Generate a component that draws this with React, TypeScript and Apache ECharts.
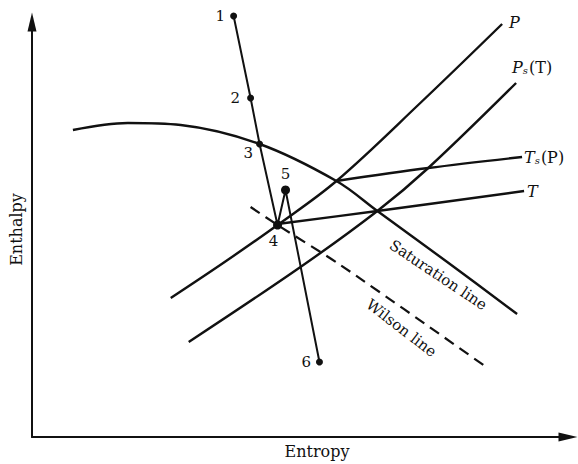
import React, { useEffect, useRef } from 'react';
import * as echarts from 'echarts';

// Entropy (x) / enthalpy (y), arbitrary schematic units
const saturationLine: [number, number][] = [[41, 307], [96, 314], [149, 312], [228, 293], [305, 256], [346, 226], [416, 175], [486, 123]];
const isobarP: [number, number][] = [[139, 139], [193, 175], [246, 212], [305, 256], [389, 334], [471, 413]];
const isobarPsT: [number, number][] = [[157, 95], [269, 170], [346, 226], [397, 269], [485, 354]];
const isothermTsP: [number, number][] = [[305, 256], [397, 269], [491, 280]];
const isothermT: [number, number][] = [[246, 213], [346, 226], [493, 246]];
const wilsonLine: [number, number][] = [[219, 230], [246, 212], [309, 172], [455, 70]];
const processPoints: [number, number][] = [[202, 421], [219, 339], [228, 293], [246, 212], [254, 247], [288, 75]];
const processNames = ['1', '2', '3', '4', '5', '6'];

const FONT = 'DejaVu Serif';
const INK = '#111';

export default function App() {
  const ref = useRef<HTMLDivElement>(null);
  useEffect(() => {
    const chart = echarts.init(ref.current!, null, { renderer: 'svg' });
    const pointLabel: Record<string, any> = {
      '1': { position: 'left', distance: 5 },
      '2': { position: 'left', distance: 7 },
      '3': { position: 'left', distance: 3, offset: [0, 9] },
      '4': { position: 'bottom', distance: 4, offset: [-4, 0] },
      '5': { position: 'top', distance: 4 },
      '6': { position: 'left', distance: 5 },
    };
    const bigDot: Record<string, number> = { '4': 9, '5': 9 };
    const rich = {
      i: { fontFamily: FONT, fontStyle: 'italic', fontSize: 16, color: INK },
      s: { fontFamily: FONT, fontStyle: 'italic', fontSize: 10, color: INK, padding: [7, 1, 0, 0] },
      n: { fontFamily: FONT, fontSize: 16, color: INK },
    };
    const curve = (name: string, data: [number, number][], endText: string | null, offset: number[]) => ({
      type: 'line',
      name,
      data,
      smooth: 0.35,
      showSymbol: false,
      clip: false,
      silent: true,
      lineStyle: { color: INK, width: 2.4 },
      endLabel: endText
        ? { show: true, formatter: endText, offset, rich, distance: 5 }
        : { show: false },
    });
    const axisLine = {
      show: true, onZero: false, symbol: ['none', 'triangle'], symbolSize: [9, 19],
      lineStyle: { color: INK, width: 2 },
    };
    const option: any = {
      animation: false,
      backgroundColor: '#fff',
      grid: { left: 31, right: 10, top: 22, bottom: 27 },
      xAxis: {
        type: 'value', min: 0, max: 537,
        name: 'Entropy', nameLocation: 'middle', nameGap: 6,
        nameTextStyle: { fontFamily: FONT, fontSize: 16, color: INK, padding: [0, 0, 0, 34], verticalAlign: 'top' },
        axisLine,
        axisTick: { show: false }, axisLabel: { show: false }, splitLine: { show: false },
      },
      yAxis: {
        type: 'value', min: 0, max: 415,
        name: 'Enthalpy', nameLocation: 'middle', nameGap: 8,
        nameTextStyle: { fontFamily: FONT, fontSize: 16, color: INK },
        axisLine,
        axisTick: { show: false }, axisLabel: { show: false }, splitLine: { show: false },
      },
      series: [
        curve('Saturation line', saturationLine, null, [0, 0]),
        curve('P', isobarP, '{i|P}', [2, -2]),
        curve('Ps(T)', isobarPsT, '{i|P}{s|s}{n|(T)}', [-9, -16]),
        curve('Ts(P)', isothermTsP, '{i|T}{s|s}{n|(P)}', [-3, 0]),
        curve('T', isothermT, '{i|T}', [-2, 0]),
        {
          type: 'line', name: 'Wilson line', data: wilsonLine, smooth: 0.3, showSymbol: false, clip: false, silent: true,
          lineStyle: { color: INK, width: 2.2, type: [11, 7] },
        },
        {
          type: 'line', name: 'process', data: processPoints, showSymbol: false, clip: false, silent: true,
          lineStyle: { color: INK, width: 2 },
        },
        {
          type: 'scatter', name: 'states', clip: false, silent: true,
          data: processPoints.map((p, k) => ({
            value: p,
            symbolSize: bigDot[processNames[k]] || 7,
            label: {
              show: true, formatter: processNames[k], fontFamily: FONT, fontSize: 15, color: INK,
              ...pointLabel[processNames[k]],
            },
          })),
          itemStyle: { color: INK, opacity: 1 },
        },
      ],
    };
    chart.setOption(option);
    const sat = chart.convertToPixel({ gridIndex: 0 }, [407, 162]) as number[];
    const wil = chart.convertToPixel({ gridIndex: 0 }, [370, 109]) as number[];
    chart.setOption({
      graphic: [
        {
          type: 'text', x: sat[0], y: sat[1], rotation: -0.59, silent: true,
          style: { text: 'Saturation line', fontFamily: FONT, fontSize: 15, fill: INK, align: 'center', verticalAlign: 'middle' },
        },
        {
          type: 'text', x: wil[0], y: wil[1], rotation: -0.655, silent: true,
          style: { text: 'Wilson line', fontFamily: FONT, fontSize: 15, fill: INK, align: 'center', verticalAlign: 'middle' },
        },
      ],
    });
    return () => chart.dispose();
  }, []);
  return <div ref={ref} style={{ position: 'fixed', left: 0, top: 0, width: 578, height: 464, background: '#fff' }} />;
}
